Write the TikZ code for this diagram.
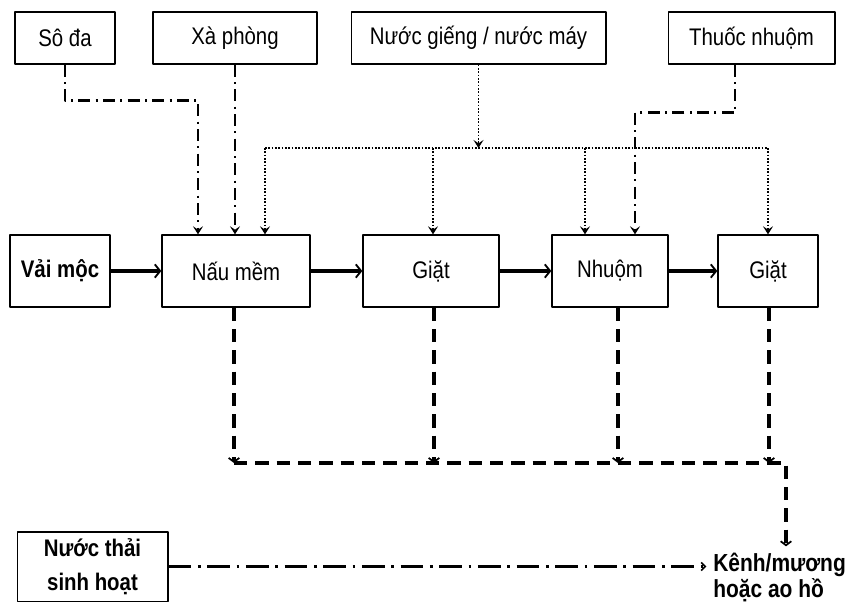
\documentclass[tikz,border=0pt]{standalone}
\usepackage{fontspec}
\setmainfont{Liberation Sans}[FakeStretch=0.85]
\usetikzlibrary{arrows.meta}

\begin{document}
\begin{tikzpicture}[x=0.75pt,y=-0.75pt,line join=round,>={Stealth[length=6pt,width=7.5pt,inset=2.5pt]}]
	\tikzset{box/.style={draw,line width=1pt,inner sep=2pt,font=\fontsize{18}{22}\selectfont},
		bbox/.style={box,font=\fontsize{18}{25}\selectfont\bfseries,align=center},
		flow/.style={line width=3.5pt,-{Straight Barb[length=4pt,width=10pt,line width=1.4pt]}},
		dashdot/.style={line width=1.8pt,dash pattern=on 9pt off 4pt on 1.5pt off 4pt},
		dots/.style={line width=1.2pt,dash pattern=on 1.2pt off 1.3pt},
		drain/.style={line width=2.6pt,dash pattern=on 10pt off 6pt,-{Straight Barb[length=3pt,width=8pt,line width=1.3pt]}},
		waste/.style={line width=2.6pt,dash pattern=on 17pt off 5pt on 2pt off 5pt,shorten >=5pt,-{Straight Barb[length=3pt,width=6pt,line width=1.2pt]}}}
	\useasboundingbox (0,0) rectangle (846,604);
	\node[box,minimum width=75pt,minimum height=39pt] (soda) at (65,38) {Sô đa};
	\node[box,minimum width=123pt,minimum height=39pt] (xaphong) at (235,38) {Xà phòng};
	\node[box,minimum width=191pt,minimum height=39pt] (nuoc) at (478.5,38) {Nước giếng / nước máy};
	\node[box,minimum width=125pt,minimum height=39pt] (thuoc) at (751.5,38) {Thuốc nhuộm};
	\node[bbox,minimum width=75pt,minimum height=54pt] (vai) at (60,271) {Vải mộc};
	\node[box,minimum width=111pt,minimum height=54pt] (naumem) at (236,271) {Nấu mềm};
	\node[box,minimum width=102pt,minimum height=54pt] (giat1) at (431,271) {Giặt};
	\node[box,minimum width=87pt,minimum height=54pt] (nhuom) at (610,271) {Nhuộm};
	\node[box,minimum width=75pt,minimum height=54pt] (giat2) at (768,271) {Giặt};
	\node[bbox,minimum width=113pt,minimum height=52pt] (thai) at (92.5,566.5) {Nước thải\\sinh hoạt};
	\node[font=\fontsize{18.5}{19}\selectfont\bfseries,align=left,anchor=north west,inner sep=0pt] (kenh) at (713,553) {Kênh/mương\\hoặc ao hồ};
	\coordinate (bus) at (478.5,148);
	\coordinate (collect) at (786,463);
	\draw[flow] (vai) -- (naumem);
	\draw[flow] (naumem) -- (giat1);
	\draw[flow] (giat1) -- (nhuom);
	\draw[flow] (nhuom) -- (giat2);
	\draw[dashdot,->] (soda.south) -- ++(0,36) -| ([xshift=-28.5pt]naumem.north);
	\draw[dashdot,->] (xaphong.south) -- (xaphong.south |- naumem.north);
	\draw[dashdot,->] ([xshift=-12.4pt]thuoc.south) -- ++(0,48) -| ([xshift=18.75pt]nhuom.north);
	\draw[dots,->] (nuoc.south) -- (bus);
	\draw[dots] ([xshift=21.75pt]naumem.north |- bus) -- (giat2.north |- bus);
	\foreach \n/\dx in {naumem/21.75pt,giat1/1.5pt,nhuom/-18.75pt,giat2/0pt}
		\draw[dots,->] ([xshift=\dx]\n.north |- bus) -- ([xshift=\dx]\n.north);
	\foreach \n/\dx in {naumem/-1.5pt,giat1/2.25pt,nhuom/6pt,giat2/0.75pt}
		\draw[drain] ([xshift=\dx]\n.south) -- ([xshift=\dx]\n.south |- collect);
	\draw[drain,shorten >=5pt] ([xshift=-1.5pt]naumem.south |- collect) -- (collect) -- (collect |- kenh.north);
	\draw[waste] (thai.east) -- (thai.east -| kenh.west);
\end{tikzpicture}
\end{document}
